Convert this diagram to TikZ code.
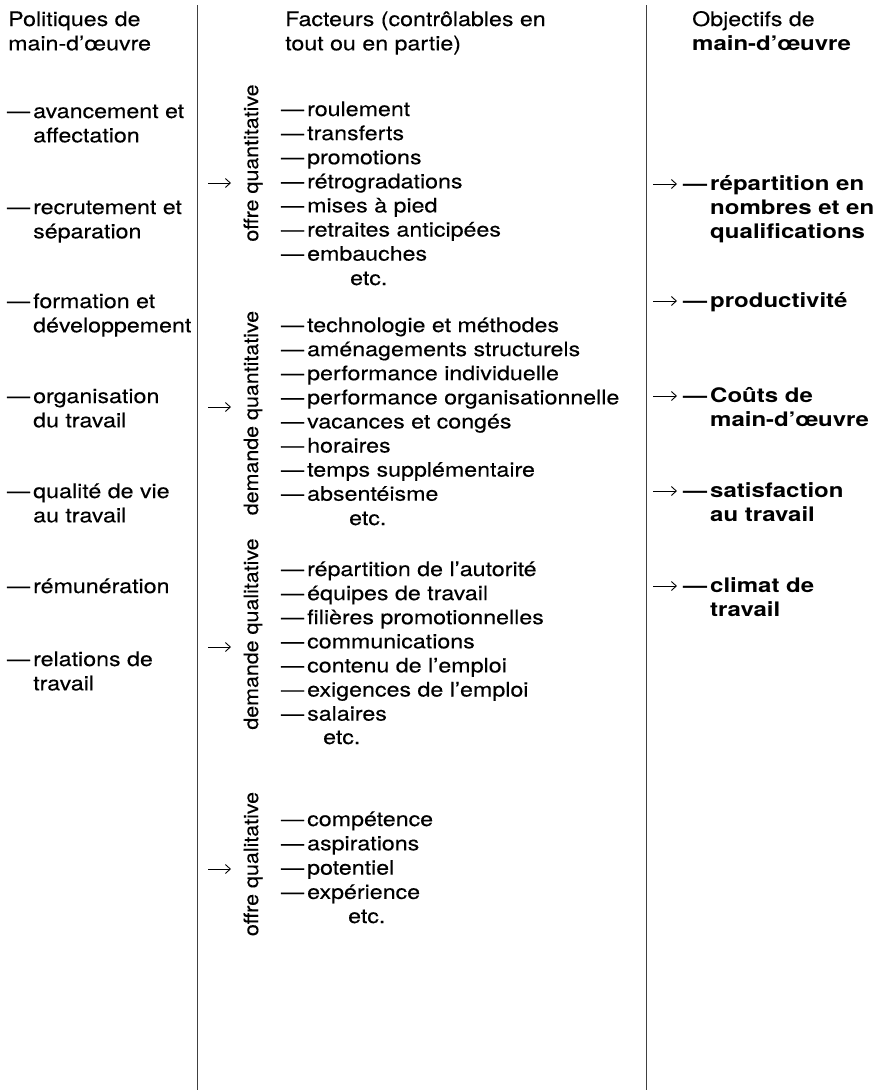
\documentclass[tikz,border=0pt]{standalone}
\usepackage{fontspec}
\setmainfont{TeX Gyre Heros}[FakeStretch=1.16, UprightFeatures={FakeBold=0.25}]
\newfontfamily\objfont{TeX Gyre Heros}[FakeStretch=1.2]
\newfontfamily\grpfont{TeX Gyre Heros}[FakeStretch=1.07, UprightFeatures={FakeBold=0.25}]
\usetikzlibrary{arrows.meta}
\newcommand{\dsh}{\llap{—\hspace{3pt}}}
\newcommand{\twol}[2]{\vtop{\hbox{#1}\hbox{#2}}}
\newcommand{\thrl}[3]{\vtop{\hbox{#1}\hbox{#2}\hbox{#3}}}
\begin{document}
\begin{tikzpicture}[x=1pt,y=-1pt,
  txt/.style={anchor=base west, inner sep=0pt, font=\fontsize{20}{24.3}\selectfont},
  obj/.style={anchor=base west, inner sep=0pt, font=\objfont\bfseries\fontsize{20}{24.3}\selectfont},
  vert/.style={anchor=center, inner sep=0pt, rotate=90, font=\grpfont\fontsize{20}{24.3}\selectfont},
  sep/.style={line width=0.9pt, black!75},
  arr/.style={-{Straight Barb[length=5pt,width=9pt]}, line width=0.9pt}]
\useasboundingbox (0,0) rectangle (880,1090);

% column separators
\coordinate (s1t) at (197,5);
\coordinate (s1b) at (197,1090);
\coordinate (s2t) at (646,5);
\coordinate (s2b) at (646,1090);
\draw[sep] (s1t) -- (s1b);
\draw[sep] (s2t) -- (s2b);

% left column
\node[txt] (ph) at (8,26) {\twol{Politiques de}{main-d’œuvre}};
\node[txt] (p1) at (33,118) {\twol{\dsh avancement et}{affectation}};
\node[txt] (p2) at (33,214) {\twol{\dsh recrutement et}{séparation}};
\node[txt] (p3) at (33,308) {\twol{\dsh formation et}{développement}};
\node[txt] (p4) at (33,403) {\twol{\dsh organisation}{du travail}};
\node[txt] (p5) at (33,498) {\twol{\dsh qualité de vie}{au travail}};
\node[txt] (p6) at (33,593) {\dsh rémunération};
\node[txt] (p7) at (33,666) {\twol{\dsh relations de}{travail}};

% middle header
\node[txt] (fh) at (285,26) {\twol{Facteurs (contrôlables en}{tout ou en partie)}};

% group labels
\node[vert] (v1) at (253,163) {offre quantitative};
\node[vert] (v2) at (253,413) {demande quantitative};
\node[vert] (v3) at (253,634) {demande qualitative};
\node[vert] (v4) at (253,864) {offre qualitative};

% group arrows
\foreach \yy [count=\i] in {183,407,647,869} {
  \coordinate (ma\i) at (208,\yy);
  \coordinate (mb\i) at (231,\yy);
  \draw[arr] (ma\i) -- (mb\i);
}

% group 1
\foreach \t [count=\i] in {roulement,transferts,promotions,rétrogradations,mises à pied,retraites anticipées,embauches}
  \node[txt] (a\i) at (307,{116+(\i-1)*24.1}) {\dsh\t};
\node[txt] (ae) at (350,285) {etc.};

% group 2
\foreach \t [count=\i] in {technologie et méthodes,aménagements structurels,performance individuelle,performance organisationnelle,vacances et congés,horaires,temps supplémentaire,absentéisme}
  \node[txt] (b\i) at (307,{332+(\i-1)*24.1}) {\dsh\t};
\node[txt] (be) at (349,525) {etc.};

% group 3
\foreach \t [count=\i] in {répartition de l’autorité,équipes de travail,filières promotionnelles,communications,contenu de l’emploi,exigences de l’emploi,salaires}
  \node[txt] (c\i) at (307,{576+(\i-1)*24.1}) {\dsh\t};
\node[txt] (ce) at (323,744) {etc.};

% group 4
\foreach \t [count=\i] in {compétence,aspirations,potentiel,expérience}
  \node[txt] (d\i) at (307,{826+(\i-1)*24.3}) {\dsh\t};
\node[txt] (de) at (348,923) {etc.};

% right column
\node[txt] (oh) at (692,26) {\twol{Objectifs de}{\objfont\bfseries main-d’œuvre}};
\node[obj] (o1) at (710,190) {\thrl{\dsh répartition en}{nombres et en}{qualifications}};
\node[obj] (o2) at (710,307) {\dsh productivité};
\node[obj] (o3) at (710,402) {\twol{\dsh Coûts de}{main-d’œuvre}};
\node[obj] (o4) at (710,497) {\twol{\dsh satisfaction}{au travail}};
\node[obj] (o5) at (710,592) {\twol{\dsh climat de}{travail}};

\foreach \yy [count=\i] in {184,301,396,491,586} {
  \coordinate (ra\i) at (653,\yy);
  \coordinate (rb\i) at (677,\yy);
  \draw[arr] (ra\i) -- (rb\i);
}
\end{tikzpicture}
\end{document}
